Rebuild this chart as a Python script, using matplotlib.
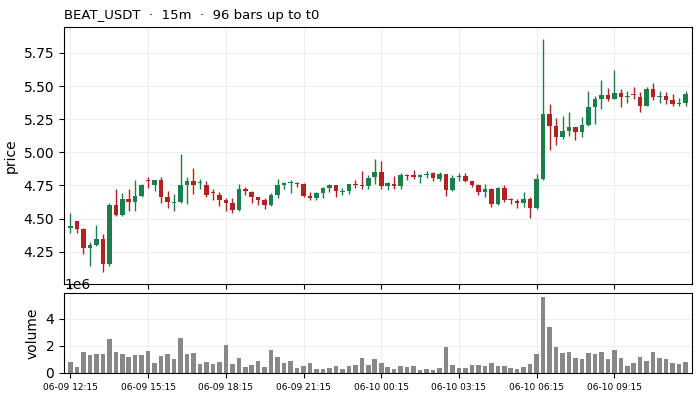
import matplotlib
matplotlib.use("Agg")
import matplotlib.pyplot as plt
import numpy as np

# 15m candles, 96 bars
opens = [4.43, 4.48, 4.42, 4.28, 4.30, 4.345, 4.16, 4.60, 4.5275, 4.65,
         4.625, 4.67, 4.79, 4.75, 4.795, 4.66, 4.62, 4.6275, 4.75, 4.7875,
         4.77, 4.75, 4.70, 4.675, 4.6375, 4.615, 4.565, 4.72, 4.7025, 4.66,
         4.6375, 4.6025, 4.675, 4.7525, 4.768, 4.7725, 4.765, 4.6675, 4.655, 4.695,
         4.7275, 4.75, 4.70, 4.71, 4.7625, 4.7525, 4.7425, 4.8125, 4.855, 4.745,
         4.765, 4.745, 4.8325, 4.8275, 4.8175, 4.8325, 4.8425, 4.8025, 4.84, 4.715,
         4.8125, 4.825, 4.7875, 4.75, 4.70, 4.72, 4.61, 4.7275, 4.645, 4.635,
         4.6175, 4.645, 4.5775, 4.8025, 5.29, 5.20, 5.1125, 5.1625, 5.1925, 5.15,
         5.2075, 5.3425, 5.4025, 5.4325, 5.4025, 5.4475, 5.42, 5.44, 5.4175, 5.3525,
         5.4775, 5.42, 5.425, 5.395, 5.3675, 5.3725]
closes = [4.445, 4.425, 4.28, 4.30, 4.345, 4.16, 4.60, 4.5275, 4.65, 4.625,
          4.6675, 4.75, 4.785, 4.795, 4.6625, 4.625, 4.625, 4.75, 4.7875, 4.75,
          4.775, 4.6775, 4.695, 4.64, 4.6175, 4.565, 4.72, 4.705, 4.6625, 4.6375,
          4.6025, 4.675, 4.75, 4.7675, 4.773, 4.765, 4.67, 4.655, 4.695, 4.7275,
          4.75, 4.7075, 4.71, 4.7575, 4.75, 4.7425, 4.81, 4.855, 4.745, 4.7675,
          4.745, 4.8325, 4.825, 4.8175, 4.8325, 4.84, 4.805, 4.84, 4.715, 4.81,
          4.825, 4.7875, 4.7525, 4.70, 4.72, 4.61, 4.7275, 4.6375, 4.64, 4.6175,
          4.645, 4.5775, 4.8025, 5.29, 5.2025, 5.1125, 5.1625, 5.1925, 5.15, 5.2075,
          5.3425, 5.4025, 5.4325, 5.4025, 5.4475, 5.42, 5.425, 5.435, 5.3525, 5.4775,
          5.42, 5.425, 5.3975, 5.3675, 5.3725, 5.4375]
highs = [4.545, 4.485, 4.4275, 4.325, 4.45, 4.3825, 4.62, 4.725, 4.69, 4.72,
         4.795, 4.765, 4.815, 4.795, 4.815, 4.7075, 4.6825, 4.99, 4.815, 4.8825,
         4.80, 4.785, 4.72, 4.7025, 4.6575, 4.6575, 4.765, 4.74, 4.71, 4.66,
         4.6575, 4.695, 4.80, 4.78, 4.7925, 4.78, 4.7675, 4.70, 4.70, 4.74,
         4.76, 4.75, 4.73, 4.765, 4.795, 4.8625, 4.83, 4.95, 4.9375, 4.775,
         4.825, 4.8425, 4.8375, 4.87, 4.8375, 4.86, 4.85, 4.855, 4.84, 4.83,
         4.845, 4.845, 4.7875, 4.765, 4.7575, 4.7325, 4.74, 4.75, 4.6575, 4.645,
         4.7025, 4.665, 4.8375, 5.8575, 5.365, 5.2575, 5.275, 5.3025, 5.1925, 5.265,
         5.4625, 5.425, 5.545, 5.4825, 5.625, 5.475, 5.46, 5.49, 5.4525, 5.49,
         5.52, 5.465, 5.4525, 5.4375, 5.4075, 5.46]
lows = [4.395, 4.395, 4.23, 4.145, 4.295, 4.095, 4.14, 4.52, 4.52, 4.5575,
        4.5575, 4.665, 4.7325, 4.7075, 4.62, 4.5825, 4.5575, 4.62, 4.6125, 4.6875,
        4.725, 4.665, 4.64, 4.595, 4.5575, 4.545, 4.5575, 4.6775, 4.62, 4.6025,
        4.575, 4.595, 4.6575, 4.725, 4.695, 4.7375, 4.6625, 4.64, 4.64, 4.6575,
        4.70, 4.665, 4.68, 4.685, 4.73, 4.725, 4.72, 4.7575, 4.725, 4.715,
        4.725, 4.725, 4.795, 4.7975, 4.77, 4.805, 4.7825, 4.7875, 4.67, 4.705,
        4.785, 4.775, 4.735, 4.6775, 4.665, 4.5875, 4.6025, 4.6275, 4.6075, 4.5825,
        4.5875, 4.5075, 4.5725, 4.79, 5.015, 5.0525, 5.1025, 5.12, 5.09, 5.115,
        5.2025, 5.2175, 5.325, 5.39, 5.40, 5.345, 5.37, 5.40, 5.3025, 5.35,
        5.395, 5.37, 5.3625, 5.3525, 5.3525, 5.3525]
volumes = [0.82, 0.46, 1.55, 1.33, 1.41, 1.41, 2.50, 1.55, 1.41, 1.19,
           1.33, 1.33, 1.62, 0.75, 1.26, 1.41, 1.04, 2.57, 1.41, 1.48,
           0.68, 0.82, 0.68, 0.82, 2.06, 0.68, 1.12, 0.46, 0.61, 0.90,
           0.46, 1.70, 1.19, 0.75, 0.90, 0.39, 0.53, 0.75, 0.32, 0.32,
           0.39, 0.53, 0.32, 0.53, 0.61, 1.12, 0.61, 1.04, 0.75, 0.46,
           0.32, 0.53, 0.46, 0.53, 0.24, 0.32, 0.24, 0.39, 1.92, 0.61,
           0.39, 0.39, 0.61, 0.61, 0.53, 0.75, 0.53, 0.53, 0.39, 0.32,
           0.46, 0.68, 1.41, 5.62, 3.37, 1.92, 1.48, 1.55, 1.12, 1.04,
           1.48, 1.41, 1.55, 1.04, 1.70, 1.12, 0.53, 0.75, 1.19, 0.90,
           1.55, 1.12, 1.04, 0.75, 0.68, 0.82]
volumes = [v * 1e6 for v in volumes]

tick_pos = [0, 12, 24, 36, 48, 60, 72, 84]
tick_labels = ['06-09 12:15', '06-09 15:15', '06-09 18:15', '06-09 21:15',
               '06-10 00:15', '06-10 03:15', '06-10 06:15', '06-10 09:15']

up_color = '#1a7f4a'
down_color = '#b22222'

o = np.array(opens)
c = np.array(closes)
h = np.array(highs)
l = np.array(lows)
x = np.arange(len(o))
up = c >= o
colors = np.where(up, up_color, down_color)

fig = plt.figure(figsize=(7, 4), dpi=100)
ax = fig.add_axes([0.0914, 0.29, 0.8972, 0.6425])
axv = fig.add_axes([0.0914, 0.0675, 0.8972, 0.2], sharex=ax)

# wicks and bodies
ax.vlines(x, l, h, colors=colors, linewidth=1.0)
body_low = np.minimum(o, c)
body_h = np.maximum(np.abs(c - o), 0.003)
ax.bar(x, body_h, bottom=body_low, width=0.7, color=colors, linewidth=0)

ax.set_ylabel('price')
ax.set_title('BEAT_USDT  ·  15m  ·  96 bars up to t0', loc='left', fontsize=9.5)
ax.grid(True, color='#eeeeee', linewidth=0.8)
ax.set_axisbelow(True)
ax.tick_params(axis='x', labelbottom=False)

axv.bar(x, volumes, width=0.7, color='#888888')
axv.set_ylabel('volume')
axv.set_ylim(0, 5.9e6)
axv.set_yticks([0, 2e6, 4e6])
axv.grid(True, color='#eeeeee', linewidth=0.8)
axv.set_axisbelow(True)
axv.set_xticks(tick_pos)
axv.set_xticklabels(tick_labels, fontsize=6.5)
axv.set_xlim(-1, 96)

plt.savefig('out.png', dpi=100)
